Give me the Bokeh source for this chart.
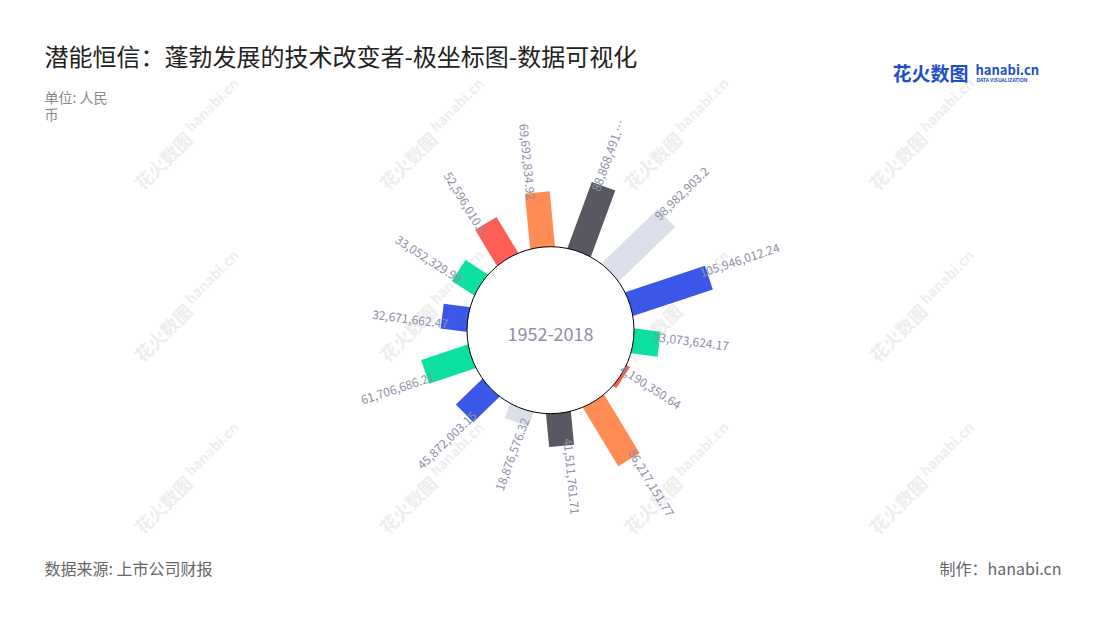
import math
from bokeh.plotting import figure
from bokeh.models import Range1d
from bokeh.core.properties import value
from bokeh.embed import file_html
from bokeh.resources import INLINE

# ---------------- data ----------------
title = "潜能恒信：蓬勃发展的技术改变者-极坐标图-数据可视化"
unit_lines = ["单位: 人民", "币"]
source_note = "数据来源: 上市公司财报"
credit = "制作：hanabi.cn"
center_label = "1952-2018"

values = [52596010.8, 69692834.92, 88868491.0, 98982903.2, 105946012.24,
          33073624.17, 4190350.64, 86217151.77, 41511761.71, 18876576.32,
          45872003.15, 61706686.21, 32671662.47, 33052329.99]
value_labels = ["52,596,010.8", "69,692,834.92", "88,868,491.…", "98,982,903.2",
                "105,946,012.24", "33,073,624.17", "4,190,350.64", "86,217,151.77",
                "41,511,761.71", "18,876,576.32", "45,872,003.15", "61,706,686.21",
                "32,671,662.47", "33,052,329.99"]

# ---------------- styles ----------------
RED, ORANGE, DARK, LIGHT, BLUE, GREEN = "#FF5E55", "#FF8C55", "#575862", "#DBDFE9", "#3A57E8", "#0CE0A0"
bar_colors = [RED, ORANGE, DARK, LIGHT, BLUE, GREEN, RED, ORANGE, DARK, LIGHT, BLUE, GREEN, BLUE, GREEN]
LABEL_COLOR = "#8D8FA6"
FONT = "Noto Sans CJK SC"

W, H = 1100, 620
def Y(py):  # page y (down) -> data y (up)
    return H - py

CX, CY = 550.0, Y(329.7)
R0 = 83.5           # inner circle radius (px)
K = 0.787           # px per million
START = -31.2       # degrees clockwise from top for first category
BAR_W = 25.0
n = len(values)
step = 360.0 / n

p = figure(width=1084, height=604, x_range=Range1d(0, 1084), y_range=Range1d(16, 620),
           output_backend="svg", toolbar_location=None, min_border=0,
           x_axis_type=None, y_axis_type=None)
p.grid.visible = False
p.outline_line_color = None
p.background_fill_color = "white"
p.border_fill_color = "white"

# ---------------- watermarks ----------------
wm_cols = [162, 407, 652, 897]
wm_rows = [160, 332, 504]
wx, wy, hx, hy = [], [], [], []
for r in wm_rows:
    for c in wm_cols:
        wx.append(c); wy.append(Y(r))
        hx.append(c + 49); hy.append(Y(r - 56))
p.text(x=wx, y=wy, text=["花火数图"] * len(wx), angle=math.pi / 4,
       text_font=value(FONT), text_font_size="18px", text_font_style="bold",
       text_color="#eeeeee", text_align="center", text_baseline="middle")
p.text(x=hx, y=hy, text=["hanabi.cn"] * len(hx), angle=math.pi / 4,
       text_font=value(FONT), text_font_size="14px", text_font_style="bold",
       text_color="#eeeeee", text_align="center", text_baseline="middle")

# ---------------- bars ----------------
R_IN = 70.0
bx, by, bl, ba = [], [], [], []
lab = {"L": dict(x=[], y=[], t=[], a=[]), "R": dict(x=[], y=[], t=[], a=[])}
for i, v in enumerate(values):
    th = math.radians(START + i * step)
    rx, ry = math.sin(th), math.cos(th)          # radial unit (data coords)
    tx, ty = -math.cos(th), math.sin(th)         # ccw tangent (data coords)
    r_end = R0 + K * v / 1e6
    rc = (R_IN + r_end) / 2
    bx.append(CX + rc * rx); by.append(CY + rc * ry)
    bl.append(r_end - R_IN)
    phi = math.pi / 2 - th
    ba.append(phi)
    rl = r_end - 7
    lx = CX + rl * rx + 7 * tx
    ly = CY + rl * ry + 7 * ty
    deg = (START + i * step) % 360
    side = "R" if 0 < deg < 180 else "L"
    d = lab[side]
    d["x"].append(lx); d["y"].append(ly); d["t"].append(value_labels[i])
    d["a"].append(phi if side == "R" else phi + math.pi)

p.rect(x=bx, y=by, width=bl, height=BAR_W, angle=ba, fill_color=bar_colors,
       line_color=None)

p.circle(x=[CX], y=[CY], radius=R0, fill_color="white", line_color="black", line_width=1)

for side, align in (("R", "left"), ("L", "right")):
    d = lab[side]
    p.text(x=d["x"], y=d["y"], text=d["t"], angle=d["a"], text_font=value(FONT),
           text_font_size="12px", text_color=LABEL_COLOR, text_align=align,
           text_baseline="middle")

p.text(x=[CX], y=[Y(333)], text=[center_label], text_font=value(FONT),
       text_font_size="18px", text_color=LABEL_COLOR, text_align="center",
       text_baseline="middle")

# ---------------- titles / notes ----------------
p.text(x=[44], y=[Y(55)], text=[title], text_font=value(FONT), text_font_size="24px",
       text_color="#222222", text_align="left", text_baseline="middle")
p.text(x=[44, 44], y=[Y(96), Y(113)], text=unit_lines, text_font=value(FONT),
       text_font_size="14px", text_color="#888888", text_align="left", text_baseline="middle")
p.text(x=[44], y=[Y(567)], text=[source_note], text_font=value(FONT), text_font_size="16px",
       text_color="#666666", text_align="left", text_baseline="middle")
p.text(x=[1061], y=[Y(567)], text=[credit], text_font=value(FONT), text_font_size="16px",
       text_color="#666666", text_align="right", text_baseline="middle")

# ---------------- logo ----------------
LOGO = "#1F4FC6"
p.text(x=[892], y=[Y(72)], text=["花火数图"], text_font=value(FONT), text_font_size="19px",
       text_font_style="bold", text_color=LOGO, text_align="left", text_baseline="middle")
p.text(x=[975], y=[Y(69)], text=["hanabi.cn"], text_font=value(FONT), text_font_size="13px",
       text_font_style="bold", text_color=LOGO, text_align="left", text_baseline="middle")
p.text(x=[976], y=[Y(79)], text=["DATA VISUALIZATION"], text_font=value(FONT), text_font_size="5px",
       text_font_style="bold", text_color=LOGO, text_align="left", text_baseline="middle")

open("out.html", "w").write(file_html(p, INLINE))
